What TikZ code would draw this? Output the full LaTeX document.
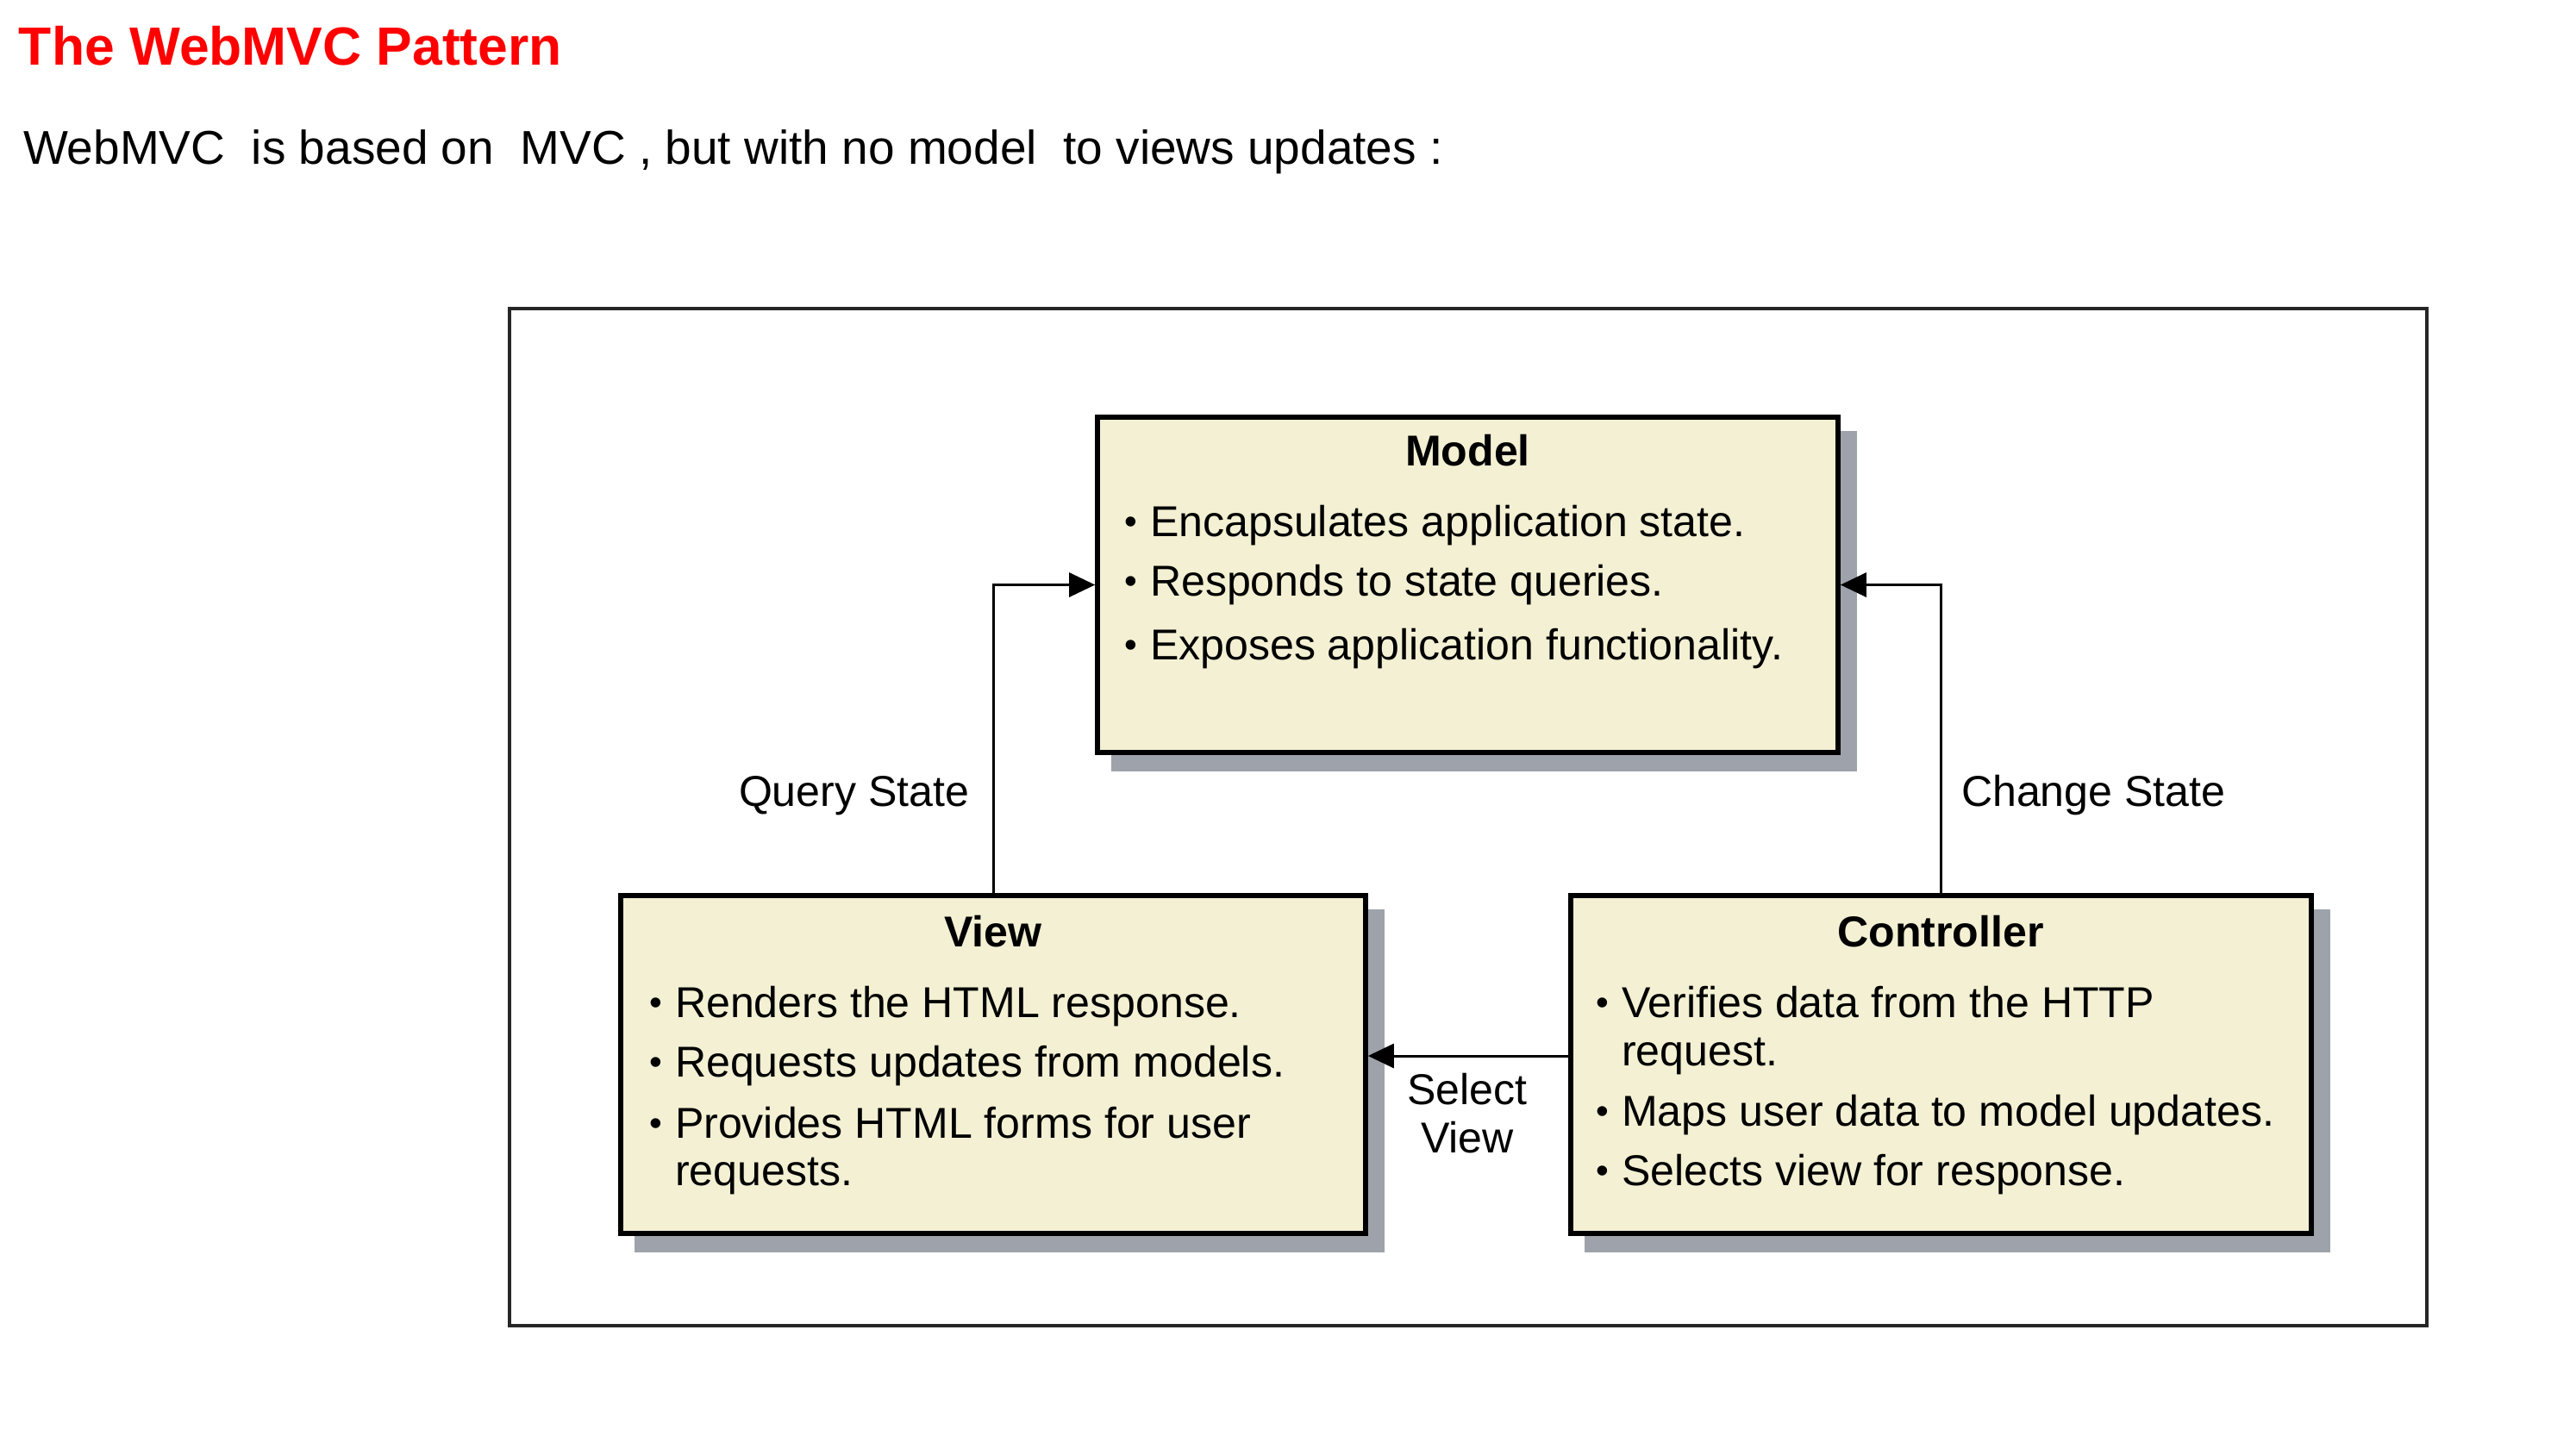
\documentclass[tikz,border=0pt]{standalone}
\usepackage{fontspec}
\setmainfont{Liberation Sans}
\usetikzlibrary{arrows.meta,backgrounds}
\definecolor{boxfill}{RGB}{243,240,211}
\definecolor{boxshade}{RGB}{158,163,171}
\definecolor{titlered}{RGB}{255,0,0}
\newcommand{\itembullet}{\llap{\raisebox{0.06em}{\fontsize{12}{12}\selectfont\textbullet}\hspace{1.5mm}}}

\begin{document}
\begin{tikzpicture}[x=1mm,y=-1mm,
  every node/.style={inner sep=0pt, outer sep=0pt},
  mvcbox/.style={draw=black, line width=1.6pt, fill=boxfill, minimum height=39.2mm, outer sep=0.8pt},
  bodytext/.style={font=\fontsize{14.25}{17}\selectfont, anchor=base west},
  boxtitle/.style={font=\fontsize{14.25}{17}\selectfont\bfseries, anchor=base},
  edgelabel/.style={font=\fontsize{14.25}{17}\selectfont},
  flow/.style={line width=0.85pt, -{Triangle[length=3mm,width=2.8mm]}},
]
\useasboundingbox (0,0) rectangle (298.8,166.5);

% heading and introduction
\node[anchor=base west, font=\fontsize{17.75}{20}\selectfont\bfseries, text=titlered] (title) at (2.2,7.5) {The WebMVC Pattern};
\node[anchor=base west, font=\fontsize{15.65}{18}\selectfont] (intro) at (2.7,19.0) {WebMVC\ \ is based on\ \ MVC , but with no model\ \ to views updates :};

% outer frame
\draw[line width=0.9pt, draw=black!85] (59.1,35.8) rectangle (281.5,153.8);

% the three components
\node[mvcbox, minimum width=85.9mm, minimum height=38.9mm] (model) at (170.25,67.85) {};
\node[mvcbox, minimum width=86.4mm] (view) at (115.2,123.5) {};
\node[mvcbox, minimum width=85.9mm] (ctrl) at (225.15,123.5) {};

\begin{scope}[on background layer]
  \foreach \b in {model,view,ctrl}
    \fill[boxshade] ([shift={(1.9,1.9)}]\b.north west) rectangle ([shift={(1.9,1.9)}]\b.south east);
\end{scope}

% model text
\node[boxtitle] (modeltitle) at (170.25,54.0) {Model};
\node[bodytext] (m1) at (133.4,62.2) {\itembullet Encapsulates application state.};
\node[bodytext] (m2) at (133.4,69.1) {\itembullet Responds to state queries.};
\node[bodytext] (m3) at (133.4,76.5) {\itembullet Exposes application functionality.};

% view text
\node[boxtitle] (viewtitle) at (115.2,109.8) {View};
\node[bodytext] (v1) at (78.3,118.0) {\itembullet Renders the HTML response.};
\node[bodytext] (v2) at (78.3,124.9) {\itembullet Requests updates from models.};
\node[bodytext] (v3) at (78.3,132.0) {\itembullet Provides HTML forms for user};
\node[bodytext] (v3b) at (78.3,137.5) {requests.};

% controller text
\node[boxtitle] (ctrltitle) at (225.1,109.8) {Controller};
\node[bodytext] (c1) at (188.1,118.0) {\itembullet Verifies data from the HTTP};
\node[bodytext] (c1b) at (188.1,123.6) {request.};
\node[bodytext] (c2) at (188.1,130.6) {\itembullet Maps user data to model updates.};
\node[bodytext] (c3) at (188.1,137.5) {\itembullet Selects view for response.};

% connectors
\draw[flow] (view.north) |- (model.west);
\draw[flow] (ctrl.north) |- (model.east);
\draw[flow] ([yshift=1mm]ctrl.west) -- ([yshift=1mm]view.east);

% connector labels
\node[edgelabel, anchor=base west] (qlabel) at (85.7,93.5) {Query State};
\node[edgelabel, anchor=base west] (clabel) at (227.5,93.5) {Change State};
\node[edgelabel, anchor=base] (slabel1) at (170.2,128.1) {Select};
\node[edgelabel, anchor=base] (slabel2) at (170.2,133.7) {View};
\end{tikzpicture}
\end{document}
